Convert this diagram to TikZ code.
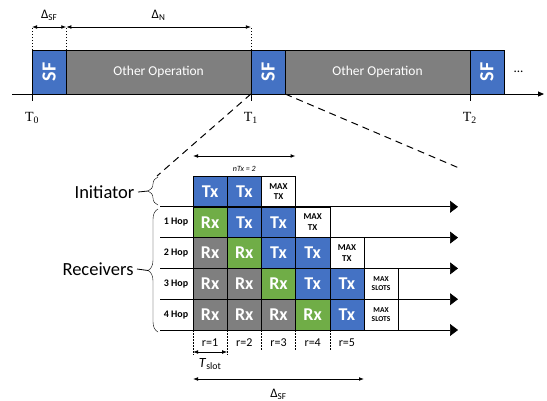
\documentclass[tikz,border=0pt]{standalone}
\usepackage{fontspec}
\setmainfont{Carlito}
\newfontfamily\serieT{Liberation Serif}
\usepackage{tikz}
\usetikzlibrary{
	calc,
	arrows.meta,
	positioning,
	decorations.pathreplacing
	}
\definecolor{bleu-sf}{HTML}{4472C4}
\definecolor{vert-rx}{HTML}{70AD47}
\definecolor{gris-op}{HTML}{7F7F7F}
\tikzstyle{bloc-sf}=[draw=black,fill=bleu-sf,minimum width=34.3pt,minimum height=44pt,inner sep=0pt,outer sep=0pt,text=white,font=\fontsize{20}{20}\selectfont\bfseries]
\tikzstyle{bloc-op}=[draw=black,fill=gris-op,minimum width=184.6pt,minimum height=44pt,inner sep=0pt,outer sep=0pt,text=white,font=\fontsize{13.5}{13.5}\selectfont]
\tikzstyle{case-std}=[draw=black,line width=0.6pt,minimum width=34.2pt,minimum height=30.8pt,inner sep=0pt,outer sep=0pt,text=white,font=\fontsize{18}{18}\selectfont\bfseries]
\tikzstyle{case-tx}=[case-std,fill=bleu-sf]
\tikzstyle{case-rx}=[case-std,fill=gris-op]
\tikzstyle{case-rx1}=[case-std,fill=vert-rx]
\tikzstyle{case-max}=[case-std,fill=white,text=black,align=center,font=\fontsize{9}{10.5}\selectfont\bfseries]
\tikzstyle{case-slots}=[case-max,font=\fontsize{7.5}{9.5}\selectfont\bfseries]
\tikzstyle{ligne-hop}=[line width=0.7pt,-{Triangle[length=8pt,width=12pt]}]
\tikzstyle{fleche-d}=[line width=0.8pt,{Latex[length=5pt]}-{Latex[length=5pt]}]
\tikzstyle{repere}=[line width=0.4pt,dash pattern=on 1.5pt off 1.5pt]

\begin{document}
\begin{tikzpicture}[x=1pt,y=-1pt]
\useasboundingbox (0,0) rectangle (547,400);

% trame : SF puis autre operation
\node[bloc-sf] (sf0) at (49.15,72) {\rotatebox{90}{SF}};
\node[bloc-op,right=0pt of sf0] (op0) {Other Operation};
\node[bloc-sf,right=0pt of op0] (sf1) {\rotatebox{90}{SF}};
\node[bloc-op,right=0pt of sf1] (op1) {Other Operation};
\node[bloc-sf,right=0pt of op1] (sf2) {\rotatebox{90}{SF}};
\node[right=6pt of sf2,font=\fontsize{13}{13}\selectfont] (suite) {...};

\coordinate (axe0) at (12,94);
\coordinate (axe1) at (544,94);
\draw[line width=0.9pt,-{Triangle[length=6pt,width=5pt]}] (axe0) -- (axe1);
\draw (sf0.south west) -- ++(0,7);
\draw (sf1.south west) -- ++(0,7);
\draw (sf2.south west) -- ++(0,7);
\node[font=\serieT\fontsize{14}{14}\selectfont] (t0) at ($(sf0.south west)+(0,24)$) {T\textsubscript{0}};
\node[font=\serieT\fontsize{14}{14}\selectfont] (t1) at ($(sf1.south west)+(0,24)$) {T\textsubscript{1}};
\node[font=\serieT\fontsize{14}{14}\selectfont] (t2) at ($(sf2.south west)+(0,24)$) {T\textsubscript{2}};

\coordinate (g0) at ($(sf0.north west)+(0,-23)$);
\coordinate (g1) at ($(sf0.north east)+(0,-23)$);
\coordinate (g2) at ($(sf1.north west)+(0,-23)$);
\draw[repere] (sf0.north west) -- (g0);
\draw[repere] (sf0.north east) -- (g1);
\draw[repere] (sf1.north west) -- (g2);
\draw[fleche-d] (g0) -- (g1);
\draw[fleche-d] (g1) -- (g2);
\node[font=\fontsize{13}{13}\selectfont] (dsf) at ($(g0)!0.5!(g1)+(0,-12)$) {Δ\textsubscript{SF}};
\node[font=\fontsize{13}{13}\selectfont] (dn) at ($(g1)!0.5!(g2)+(0,-12)$) {Δ\textsubscript{N}};

% agrandissement du SF
\coordinate (zg) at (157,176);
\coordinate (zd) at (459,168);
\draw[line width=1pt,dash pattern=on 7pt off 5pt] (sf1.south west) -- (zg);
\draw[line width=1pt,dash pattern=on 7pt off 5pt] (sf1.south east) -- (zd);

\node[case-tx] (c00) at (210.1,191.4) {Tx};
\node[case-tx,right=0pt of c00] (c01) {Tx};
\node[case-max,right=0pt of c01] (c02) {MAX\\TX};

\node[case-rx1] (c10) at (210.1,222.2) {Rx};
\node[case-tx,right=0pt of c10] (c11) {Tx};
\node[case-tx,right=0pt of c11] (c12) {Tx};
\node[case-max,right=0pt of c12] (c13) {MAX\\TX};

\node[case-rx] (c20) at (210.1,253) {Rx};
\node[case-rx1,right=0pt of c20] (c21) {Rx};
\node[case-tx,right=0pt of c21] (c22) {Tx};
\node[case-tx,right=0pt of c22] (c23) {Tx};
\node[case-max,right=0pt of c23] (c24) {MAX\\TX};

\node[case-rx] (c30) at (210.1,283.8) {Rx};
\node[case-rx,right=0pt of c30] (c31) {Rx};
\node[case-rx1,right=0pt of c31] (c32) {Rx};
\node[case-tx,right=0pt of c32] (c33) {Tx};
\node[case-tx,right=0pt of c33] (c34) {Tx};
\node[case-slots,right=0pt of c34] (c35) {MAX\\SLOTS};

\node[case-rx] (c40) at (210.1,314.6) {Rx};
\node[case-rx,right=0pt of c40] (c41) {Rx};
\node[case-rx,right=0pt of c41] (c42) {Rx};
\node[case-rx1,right=0pt of c42] (c43) {Rx};
\node[case-tx,right=0pt of c43] (c44) {Tx};
\node[case-slots,right=0pt of c44] (c45) {MAX\\SLOTS};

\coordinate (debut) at (160,0);
\coordinate (fin) at (458,0);
\draw[ligne-hop] (c00.south -| debut) -- (c00.south -| fin);
\draw[ligne-hop] (c10.south -| debut) -- (c10.south -| fin);
\draw[ligne-hop] (c20.south -| debut) -- (c20.south -| fin);
\draw[ligne-hop] (c30.south -| debut) -- (c30.south -| fin);
\draw[ligne-hop] (c40.south -| debut) -- (c40.south -| fin);

\node[font=\fontsize{10}{10}\selectfont\bfseries] (hop1) at (176,222.2) {1 Hop};
\node[font=\fontsize{10}{10}\selectfont\bfseries] (hop2) at (176,253) {2 Hop};
\node[font=\fontsize{10}{10}\selectfont\bfseries] (hop3) at (176,283.8) {3 Hop};
\node[font=\fontsize{10}{10}\selectfont\bfseries] (hop4) at (176,314.6) {4 Hop};

% accolades a gauche
\node[anchor=east,font=\fontsize{18.5}{18.5}\selectfont] (init) at (138,192) {Initiator};
\node[anchor=east,font=\fontsize{18.5}{18.5}\selectfont] (recv) at (137,269) {Receivers};
\coordinate (acc1-h) at (158,177);
\coordinate (acc1-b) at (158,205);
\coordinate (acc2-h) at (158,209);
\coordinate (acc2-b) at (158,332);
\draw[decorate,decoration={brace,amplitude=10pt}] (acc1-b) -- (acc1-h);
\draw[decorate,decoration={brace,amplitude=10pt}] (acc2-b) -- (acc2-h);
\draw[line width=0.8pt] (init.east) -- ($(acc1-b)!0.5!(acc1-h)+(-10,0)$);
\draw[line width=0.8pt] (recv.east) -- ($(acc2-b)!0.5!(acc2-h)+(-10,0)$);

% nTx au dessus
\coordinate (n0) at ($(c00.north west)+(0,-20)$);
\coordinate (n1) at ($(c02.north east)+(0,-20)$);
\draw[fleche-d] (n0) -- (n1);
\node[font=\fontsize{8}{8}\selectfont\itshape] (ntx) at ($(c01.north)+(0,-7)$) {nTx = 2};

% slots en dessous
\draw[repere] (c40.south west) -- ++(0,25);
\draw[repere] (c41.south west) -- ++(0,25);
\draw[repere] (c42.south west) -- ++(0,20);
\draw[repere] (c43.south west) -- ++(0,20);
\draw[repere] (c44.south west) -- ++(0,20);
\node[font=\fontsize{12}{12}\selectfont] (r1) at ($(c40.south)+(0,13)$) {r=1};
\node[font=\fontsize{12}{12}\selectfont] (r2) at ($(c41.south)+(0,13)$) {r=2};
\node[font=\fontsize{12}{12}\selectfont] (r3) at ($(c42.south)+(0,13)$) {r=3};
\node[font=\fontsize{12}{12}\selectfont] (r4) at ($(c43.south)+(0,13)$) {r=4};
\node[font=\fontsize{12}{12}\selectfont] (r5) at ($(c44.south)+(0,13)$) {r=5};

\coordinate (s0) at ($(c40.south west)+(0,22)$);
\coordinate (s1) at ($(c40.south east)+(0,22)$);
\draw[fleche-d] (s0) -- (s1);
\node[font=\fontsize{14}{14}\selectfont] (tslot) at ($(s0)!0.5!(s1)+(0,12)$) {\textit{T}\textsubscript{slot}};

\coordinate (d0) at ($(c40.south west)+(0,49)$);
\coordinate (d1) at ($(c44.south east)+(0,49)$);
\draw[fleche-d] (d0) -- (d1);
\node[font=\fontsize{13}{13}\selectfont] (dsf2) at ($(d0)!0.5!(d1)+(0,15)$) {Δ\textsubscript{SF}};
\end{tikzpicture}
\end{document}
